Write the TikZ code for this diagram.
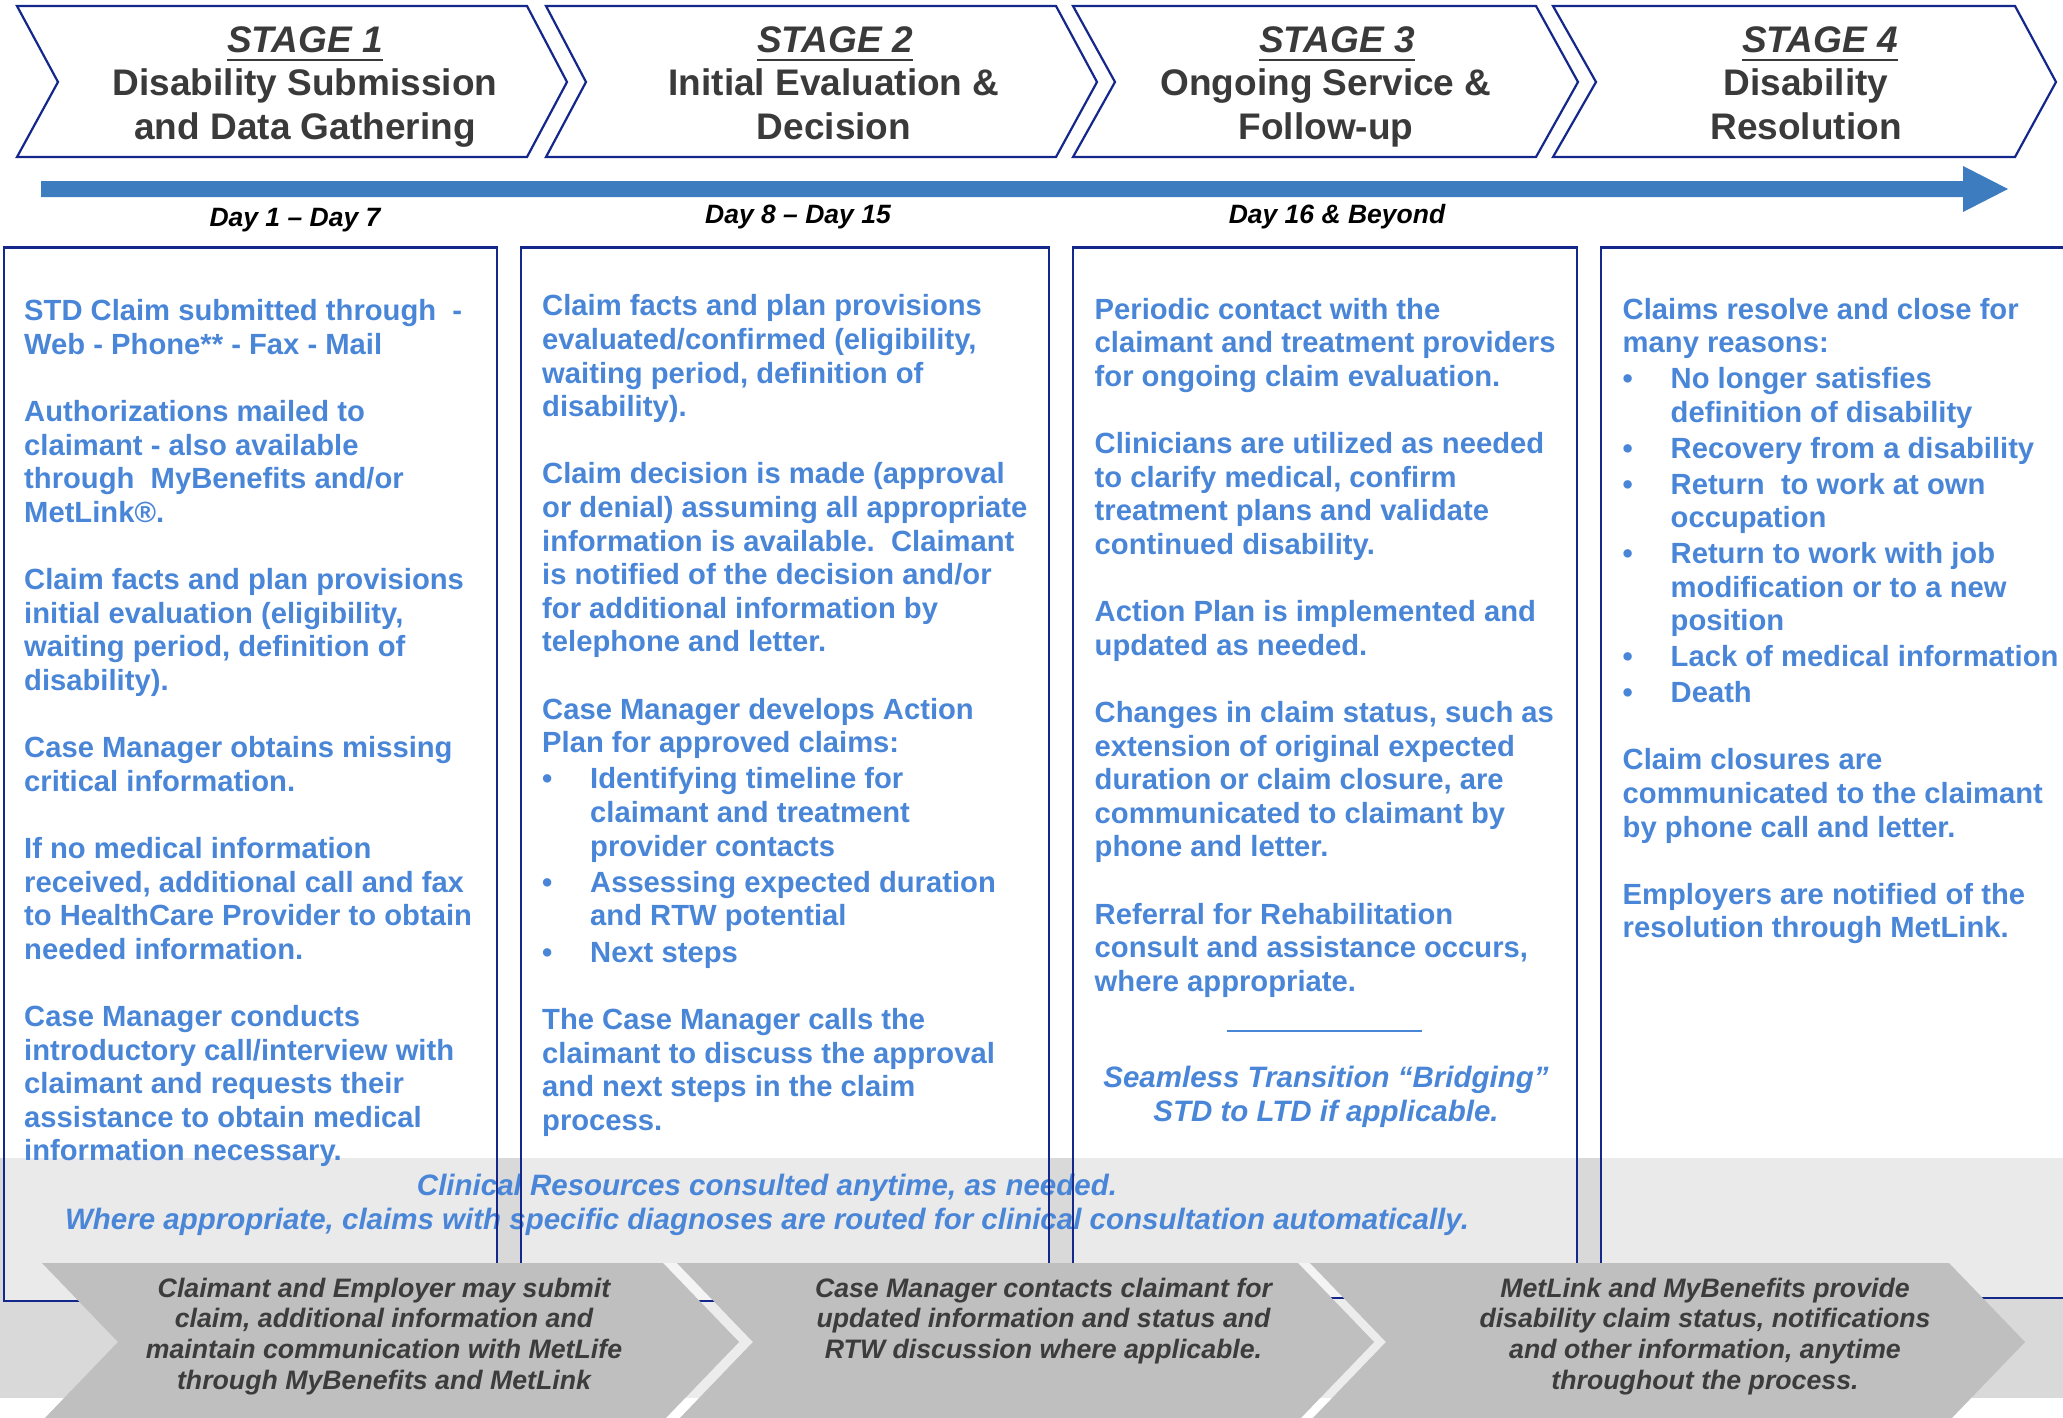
\documentclass[tikz,border=0pt]{standalone}
\usepackage{fontspec}
\setmainfont{Liberation Sans}
\definecolor{navy}{RGB}{20,40,140}
\definecolor{txtblue}{RGB}{74,134,216}
\definecolor{arrowblue}{RGB}{62,124,192}
\definecolor{hdrgray}{RGB}{58,58,58}
\definecolor{bandgray}{RGB}{217,217,217}
\definecolor{chevgray}{RGB}{191,191,191}
\definecolor{chevtext}{RGB}{60,60,60}
\newcommand\myblt{\makebox[48pt][l]{•}}
\newcommand\myind{\hspace*{48pt}}
\newcommand\stageul[1]{\setbox0\hbox{#1}\rlap{\raisebox{-8.5pt}{\rule{\wd0}{2.8pt}}}\box0}
\tikzset{
  hdrchev/.style={draw=navy, line width=2.2pt, fill=white, line join=miter},
  boxfill/.style={fill=white, fill opacity=0.47},
  boxline/.style={draw=navy, line width=2.2pt},
  boxtext/.style={anchor=north west, inner sep=0pt, align=left, text=txtblue, font=\fontsize{29.2}{33.6}\selectfont\bfseries},
  stagelbl/.style={anchor=base, inner sep=0pt, text=hdrgray, font=\fontsize{37}{42.5}\selectfont\bfseries\itshape},
  stagetitle/.style={anchor=north, inner sep=0pt, align=center, text=hdrgray, font=\fontsize{37}{43.8}\selectfont\bfseries},
  daylbl/.style={anchor=base, inner sep=0pt, text=black, font=\fontsize{26.5}{30}\selectfont\bfseries\itshape},
  bandtext/.style={anchor=north, inner sep=0pt, align=center, text=txtblue, font=\fontsize{29.5}{34}\selectfont\bfseries\itshape},
  chevshape/.style={fill=chevgray},
  gapstrip/.style={fill=white, fill opacity=0.5},
  chevlbl/.style={anchor=north, inner sep=0pt, align=center, text=chevtext, font=\fontsize{26.7}{30.7}\selectfont\bfseries\itshape},
  sepline/.style={draw=txtblue, line width=1.6pt},
}
\begin{document}
\begin{tikzpicture}[x=1pt,y=-1pt]
\useasboundingbox (0,0) rectangle (2063,1418);
\begin{scope}
\clip (0,0) rectangle (2063,1418);
\fill[white] (0,0) rectangle (2063,1418);

% header chevrons
\draw[hdrchev] (17,6) -- (527,6) -- (567,82) -- (527,157) -- (17,157) -- (58,82) -- cycle;
\draw[hdrchev] (546,6) -- (1056,6) -- (1097,82) -- (1056,157) -- (546,157) -- (586,82) -- cycle;
\draw[hdrchev] (1073,6) -- (1536,6) -- (1578,82) -- (1536,157) -- (1073,157) -- (1115,82) -- cycle;
\draw[hdrchev] (1553,6) -- (2015,6) -- (2056,82) -- (2015,157) -- (1553,157) -- (1596,82) -- cycle;

\node[stagelbl] (s1) at (305,53) {\stageul{STAGE 1}};
\node[stagetitle] (t1) at (305,65) {\strut Disability Submission\\and Data Gathering};
\node[stagelbl] (s2) at (835,53) {\stageul{STAGE 2}};
\node[stagetitle] (t2) at (834,65) {\strut Initial Evaluation \&\\Decision};
\node[stagelbl] (s3) at (1337,53) {\stageul{STAGE 3}};
\node[stagetitle] (t3) at (1326,65) {\strut Ongoing Service \&\\Follow-up};
\node[stagelbl] (s4) at (1820,53) {\stageul{STAGE 4}};
\node[stagetitle] (t4) at (1806,65) {\strut Disability\\Resolution};

% timeline arrow
\fill[arrowblue] (41,181) -- (1963,181) -- (1963,166) -- (2008,189) -- (1963,212) -- (1963,197) -- (41,197) -- cycle;
\node[daylbl] (d1) at (295,226) {Day 1 – Day 7};
\node[daylbl] (d2) at (798,223.5) {Day 8 – Day 15};
\node[daylbl] (d3) at (1337,223.5) {Day 16 \& Beyond};

% grey band
\fill[bandgray] (0,1158) rectangle (2063,1398);

% box fills
\fill[boxfill] (4,247.5) rectangle (497,1301);
\fill[boxfill] (521,247.5) rectangle (1049,1301);
\fill[boxfill] (1073,247.5) rectangle (1577,1298);
\fill[boxfill] (1601,247.5) rectangle (2075,1298);

% box texts
\node[boxtext] (b1) at (24,297.1) {\strut STD Claim submitted through~~-\\
Web - Phone** - Fax - Mail\\[33.6pt]
Authorizations mailed to\\
claimant - also available\\
through~~MyBenefits and/or\\
MetLink®.\\[33.6pt]
Claim facts and plan provisions\\
initial evaluation (eligibility,\\
waiting period, definition of\\
disability).\\[33.6pt]
Case Manager obtains missing\\
critical information.\\[33.6pt]
If no medical information\\
received, additional call and fax\\
to HealthCare Provider to obtain\\
needed information.\\[33.6pt]
Case Manager conducts\\
introductory call/interview with\\
claimant and requests their\\
assistance to obtain medical\\
information necessary.};

\node[boxtext] (b2) at (542,292.2) {\strut Claim facts and plan provisions\\
evaluated/confirmed (eligibility,\\
waiting period, definition of\\
disability).\\[33.6pt]
Claim decision is made (approval\\
or denial) assuming all appropriate\\
information is available.~~Claimant\\
is notified of the decision and/or\\
for additional information by\\
telephone and letter.\\[33.6pt]
Case Manager develops Action\\
Plan for approved claims:\\[2.5pt]
\myblt Identifying timeline for\\
\myind claimant and treatment\\
\myind provider contacts\\[2.5pt]
\myblt Assessing expected duration\\
\myind and RTW potential\\[3pt]
\myblt Next steps\\[33.6pt]
The Case Manager calls the\\
claimant to discuss the approval\\
and next steps in the claim\\
process.};

\node[boxtext] (b3) at (1094.5,295.5) {\strut Periodic contact with the\\
claimant and treatment providers\\
for ongoing claim evaluation.\\[33.6pt]
Clinicians are utilized as needed\\
to clarify medical, confirm\\
treatment plans and validate\\
continued disability.\\[33.6pt]
Action Plan is implemented and\\
updated as needed.\\[33.6pt]
Changes in claim status, such as\\
extension of original expected\\
duration or claim closure, are\\
communicated to claimant by\\
phone and letter.\\[33.6pt]
Referral for Rehabilitation\\
consult and assistance occurs,\\
where appropriate.};

\coordinate (sepL) at (1227,1031);
\coordinate (sepR) at (1422,1031);
\draw[sepline] (sepL) -- (sepR);
\node[bandtext] (seam) at (1326,1063.4) {\strut Seamless Transition “Bridging”\\STD to LTD if applicable.};

\node[boxtext] (b4) at (1622.5,295.5) {\strut Claims resolve and close for\\
many reasons:\\[2.3pt]
\myblt No longer satisfies\\
\myind definition of disability\\[2.3pt]
\myblt Recovery from a disability\\[2.3pt]
\myblt Return~~to work at own\\
\myind occupation\\[2.3pt]
\myblt Return to work with job\\
\myind modification or to a new\\
\myind position\\[2.3pt]
\myblt Lack of medical information\\[2.3pt]
\myblt Death\\[33.6pt]
Claim closures are\\
communicated to the claimant\\
by phone call and letter.\\[33.6pt]
Employers are notified of the\\
resolution through MetLink.};

% band text
\node[bandtext] (clin) at (767,1171.2) {\strut Clinical Resources consulted anytime, as needed.\\Where appropriate, claims with specific diagnoses are routed for clinical consultation automatically.};

% gaps between bottom chevrons
\fill[gapstrip] (663,1263) -- (677,1263) -- (753,1342) -- (677,1421) -- (663,1421) -- (739,1342) -- cycle;
\fill[gapstrip] (1298,1263) -- (1310,1263) -- (1386,1342) -- (1310,1421) -- (1298,1421) -- (1374,1342) -- cycle;

% box borders
\draw[boxline] (4,247.5) rectangle (497,1301);
\draw[boxline] (521,247.5) rectangle (1049,1301);
\draw[boxline] (1073,247.5) rectangle (1577,1298);
\draw[boxline] (1601,247.5) rectangle (2075,1298);

% bottom chevrons
\fill[chevshape] (42,1263) -- (663,1263) -- (739,1342) -- (663,1421) -- (42,1421) -- (118,1342) -- cycle;
\fill[chevshape] (677,1263) -- (1298,1263) -- (1374,1342) -- (1298,1421) -- (677,1421) -- (753,1342) -- cycle;
\fill[chevshape] (1310,1263) -- (1949,1263) -- (2025,1342) -- (1949,1421) -- (1310,1421) -- (1386,1342) -- cycle;

\node[chevlbl] (c1) at (384,1275.5) {\strut Claimant and Employer may submit\\claim, additional information and\\maintain communication with MetLife\\through MyBenefits and MetLink};
\node[chevlbl] (c2) at (1043.5,1275.5) {\strut Case Manager contacts claimant for\\updated information and status and\\RTW discussion where applicable.};
\node[chevlbl] (c3) at (1705,1275.5) {\strut MetLink and MyBenefits provide\\disability claim status, notifications\\and other information, anytime\\throughout the process.};
\end{scope}
\end{tikzpicture}
\end{document}
